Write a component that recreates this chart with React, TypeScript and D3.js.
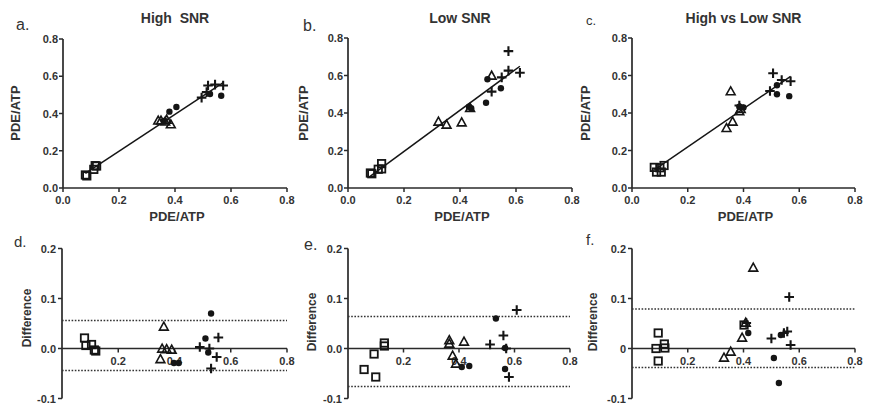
import React from "react";
import * as d3 from "d3";

type Pt = [number, number];

// ---------- Panel a: High SNR ----------
const aSquares: Pt[] = [[0.08, 0.07], [0.085, 0.065], [0.11, 0.1], [0.115, 0.12], [0.12, 0.118]];
const aTriangles: Pt[] = [[0.34, 0.36], [0.35, 0.36], [0.365, 0.355], [0.385, 0.34], [0.37, 0.365]];
const aCircles: Pt[] = [[0.36, 0.36], [0.38, 0.41], [0.405, 0.435], [0.525, 0.505], [0.565, 0.495]];
const aPluses: Pt[] = [[0.495, 0.485], [0.513, 0.515], [0.518, 0.55], [0.543, 0.555], [0.572, 0.55]];

// ---------- Panel b: Low SNR ----------
const bSquares: Pt[] = [[0.08, 0.08], [0.085, 0.076], [0.108, 0.1], [0.12, 0.102], [0.12, 0.13]];
const bTriangles: Pt[] = [[0.323, 0.352], [0.352, 0.336], [0.406, 0.348], [0.436, 0.425], [0.513, 0.597]];
const bCircles: Pt[] = [[0.432, 0.434], [0.493, 0.455], [0.498, 0.58], [0.546, 0.532], [0.44, 0.425]];
const bPluses: Pt[] = [[0.513, 0.514], [0.549, 0.59], [0.573, 0.73], [0.573, 0.626], [0.614, 0.615]];

// ---------- Panel c: High vs Low SNR ----------
const cSquares: Pt[] = [[0.08, 0.11], [0.088, 0.085], [0.105, 0.085], [0.115, 0.12], [0.1, 0.108]];
const cTriangles: Pt[] = [[0.354, 0.514], [0.339, 0.318], [0.361, 0.352], [0.385, 0.407], [0.39, 0.42]];
const cCircles: Pt[] = [[0.385, 0.434], [0.4, 0.43], [0.52, 0.5], [0.564, 0.49], [0.52, 0.548]];
const cPluses: Pt[] = [[0.506, 0.612], [0.495, 0.517], [0.537, 0.576], [0.569, 0.569], [0.385, 0.44]];

// ---------- Panel d: High SNR differences ----------
const dSquares: Pt[] = [[0.08, 0.021], [0.085, 0.006], [0.105, 0.008], [0.115, -0.003], [0.12, -0.005]];
const dTriangles: Pt[] = [[0.362, 0.043], [0.356, -0.001], [0.35, -0.022], [0.39, -0.003], [0.372, -0.002]];
const dCircles: Pt[] = [[0.53, 0.07], [0.51, 0.02], [0.52, -0.008], [0.398, -0.029], [0.415, -0.029]];
const dPluses: Pt[] = [[0.49, 0.003], [0.556, 0.022], [0.55, -0.017], [0.53, -0.04], [0.524, 0.0]];
const dLimits = [0.056, -0.044];

// ---------- Panel e: Low SNR differences ----------
const eSquares: Pt[] = [[0.058, -0.042], [0.1, -0.057], [0.094, -0.011], [0.131, 0.011], [0.131, 0.005]];
const eTriangles: Pt[] = [[0.365, 0.016], [0.365, 0.009], [0.377, -0.015], [0.389, -0.031], [0.418, 0.013]];
const eCircles: Pt[] = [[0.41, -0.037], [0.437, -0.035], [0.533, 0.06], [0.566, 0.001], [0.566, -0.041]];
const ePluses: Pt[] = [[0.512, 0.008], [0.56, 0.026], [0.608, 0.077], [0.58, -0.057], [0.57, 0.0]];
const eLimits = [0.064, -0.076];

// ---------- Panel f: High vs Low SNR differences ----------
const fSquares: Pt[] = [[0.094, 0.031], [0.086, 0.0], [0.094, -0.025], [0.116, 0.009], [0.118, 0.001], [0.402, 0.047]];
const fTriangles: Pt[] = [[0.435, 0.161], [0.33, -0.019], [0.354, -0.007], [0.395, 0.021], [0.408, 0.051]];
const fCircles: Pt[] = [[0.417, 0.031], [0.509, -0.019], [0.527, -0.069], [0.534, 0.027]];
const fPluses: Pt[] = [[0.41, 0.051], [0.5, 0.02], [0.545, 0.031], [0.557, 0.034], [0.564, 0.103], [0.569, 0.007]];
const fLimits = [0.079, -0.038];

// ---------- Axes / text ----------
const topTicks = [0, 0.2, 0.4, 0.6, 0.8];
const topTickLabels = ["0.0", "0.2", "0.4", "0.6", "0.8"];
const baXTicks = [0.2, 0.4, 0.6, 0.8];
const baXTickLabels = ["0.2", "0.4", "0.6", "0.8"];
const baYTicks = [-0.1, 0, 0.1, 0.2];
const baYTickLabels = ["-0.1", "0.0", "0.1", "0.2"];
const baYTickLabelsF = ["-0.1", "0", "0.1", "0.2"];
const titles = ["High  SNR", "Low SNR", "High vs Low SNR"];
const letters = ["a.", "b.", "c.", "d.", "e.", "f."];
const axisTitle = "PDE/ATP";
const diffTitle = "Difference";

const FONT = "'Liberation Sans', Arial, Helvetica, sans-serif";
const INK = "#151515";
const TXT = "#333";
const AX = "#2a2a2a";

type Groups = { squares: Pt[]; triangles: Pt[]; circles: Pt[]; pluses: Pt[] };

function Markers({ x, y, g }: { x: d3.ScaleLinear<number, number>; y: d3.ScaleLinear<number, number>; g: Groups }) {
  const tri = "M0,-4.8L4.4,3.1L-4.4,3.1Z";
  return (
    <g>
      {g.circles.map((p, i) => (
        <circle key={"c" + i} cx={x(p[0])} cy={y(p[1])} r={3.2} fill={INK} />
      ))}
      {g.squares.map((p, i) => (
        <rect key={"s" + i} x={x(p[0]) - 3.7} y={y(p[1]) - 3.7} width={7.4} height={7.4} fill="none" stroke={INK} strokeWidth={1.8} />
      ))}
      {g.triangles.map((p, i) => (
        <path key={"t" + i} d={tri} transform={`translate(${x(p[0])},${y(p[1])})`} fill="none" stroke={INK} strokeWidth={1.6} />
      ))}
      {g.pluses.map((p, i) => (
        <path key={"p" + i} d="M-4.8,0H4.8M0,-4.8V4.8" transform={`translate(${x(p[0])},${y(p[1])})`} stroke={INK} strokeWidth={2.1} />
      ))}
    </g>
  );
}

function fit(pts: Pt[]) {
  const mx = d3.mean(pts, (p) => p[0]) as number;
  const my = d3.mean(pts, (p) => p[1]) as number;
  const sxy = d3.sum(pts, (p) => (p[0] - mx) * (p[1] - my));
  const sxx = d3.sum(pts, (p) => (p[0] - mx) * (p[0] - mx));
  const slope = sxy / sxx;
  const b = my - slope * mx;
  const ext = d3.extent(pts, (p) => p[0]) as [number, number];
  return { x0: ext[0], x1: ext[1], y0: b + slope * ext[0], y1: b + slope * ext[1] };
}

type TopCfg = { x0: number; x1: number; yb: number; yt: number; g: Groups; title: string; letter: string; lx: number; ly: number; lsize: number; ylabX: number };

function TopPanel({ c }: { c: TopCfg }) {
  const x = d3.scaleLinear().domain([0, 0.8]).range([c.x0, c.x1]);
  const y = d3.scaleLinear().domain([0, 0.8]).range([c.yb, c.yt]);
  const all = [...c.g.squares, ...c.g.triangles, ...c.g.circles, ...c.g.pluses];
  const f = fit(all);
  const cx = (c.x0 + c.x1) / 2;
  return (
    <g>
      <text x={cx} y={23} textAnchor="middle" fontSize={14} fontWeight="bold" fill={TXT} fontFamily={FONT} style={{ whiteSpace: "pre" }}>{c.title}</text>
      <text x={c.lx} y={c.ly} fontSize={c.lsize} fill={TXT} fontFamily={FONT}>{c.letter}</text>
      <line x1={c.x0} x2={c.x1} y1={c.yb} y2={c.yb} stroke={AX} strokeWidth={1.7} />
      <line x1={c.x0} x2={c.x0} y1={c.yt} y2={c.yb} stroke={AX} strokeWidth={1.7} />
      {topTicks.map((t, i) => (
        <g key={"xt" + i}>
          <line x1={x(t)} x2={x(t)} y1={c.yb} y2={c.yb + 4} stroke={AX} strokeWidth={1.5} />
          <text x={x(t)} y={c.yb + 16} textAnchor="middle" fontSize={11} fontWeight="bold" fill={TXT} fontFamily={FONT}>{topTickLabels[i]}</text>
          <line x1={c.x0 - 4} x2={c.x0} y1={y(t)} y2={y(t)} stroke={AX} strokeWidth={1.5} />
          <text x={c.x0 - 5} y={y(t) + 4} textAnchor="end" fontSize={11} fontWeight="bold" fill={TXT} fontFamily={FONT}>{topTickLabels[i]}</text>
        </g>
      ))}
      <text x={cx + 2} y={221} textAnchor="middle" fontSize={13} fontWeight="bold" fill={TXT} fontFamily={FONT}>{axisTitle}</text>
      <text transform={`translate(${c.ylabX},113) rotate(-90)`} textAnchor="middle" fontSize={13} fontWeight="bold" fill={TXT} fontFamily={FONT}>{axisTitle}</text>
      <line x1={x(f.x0)} x2={x(f.x1)} y1={y(f.y0)} y2={y(f.y1)} stroke={INK} strokeWidth={1.5} />
      <Markers x={x} y={y} g={c.g} />
    </g>
  );
}

type BotCfg = { x0: number; x1: number; g: Groups; letter: string; lx: number; ly: number; lsize: number; ylabX: number; ylabY: number; limits: number[]; yLabels: string[] };

function BotPanel({ c }: { c: BotCfg }) {
  const x = d3.scaleLinear().domain([0, 0.8]).range([c.x0, c.x1]);
  const y = d3.scaleLinear().domain([-0.1, 0.2]).range([398.5, 248.5]);
  return (
    <g>
      <text x={c.lx} y={c.ly} fontSize={c.lsize} fill={TXT} fontFamily={FONT}>{c.letter}</text>
      <line x1={c.x0} x2={c.x0} y1={y(0.2)} y2={y(-0.1)} stroke={AX} strokeWidth={1.7} />
      <line x1={c.x0} x2={c.x1} y1={y(0)} y2={y(0)} stroke={AX} strokeWidth={1.7} />
      {baYTicks.map((t, i) => (
        <g key={"yt" + i}>
          <line x1={c.x0 - 4} x2={c.x0} y1={y(t)} y2={y(t)} stroke={AX} strokeWidth={1.5} />
          <text x={c.x0 - 6} y={y(t) + 4} textAnchor="end" fontSize={11} fontWeight="bold" fill={TXT} fontFamily={FONT}>{c.yLabels[i]}</text>
        </g>
      ))}
      {baXTicks.map((t, i) => (
        <g key={"xt" + i}>
          <line x1={x(t)} x2={x(t)} y1={y(0)} y2={y(0) + 4} stroke={AX} strokeWidth={1.5} />
          <text x={x(t)} y={y(0) + 16} textAnchor="middle" fontSize={11} fontWeight="bold" fill={TXT} fontFamily={FONT}>{baXTickLabels[i]}</text>
        </g>
      ))}
      {c.limits.map((l, i) => (
        <line key={"lim" + i} x1={c.x0} x2={c.x1} y1={y(l)} y2={y(l)} stroke="#333" strokeWidth={1.6} strokeDasharray="1.6,1.6" />
      ))}
      <text transform={`translate(${c.ylabX},${c.ylabY}) rotate(-90)`} textAnchor="middle" fontSize={12} fontWeight="bold" fill={TXT} fontFamily={FONT}>{diffTitle}</text>
      <Markers x={x} y={y} g={c.g} />
    </g>
  );
}

export default function App() {
  const tops: TopCfg[] = [
    { x0: 63, x1: 287, yb: 188, yt: 39, g: { squares: aSquares, triangles: aTriangles, circles: aCircles, pluses: aPluses }, title: titles[0], letter: letters[0], lx: 16, ly: 30, lsize: 16, ylabX: 20 },
    { x0: 348, x1: 572, yb: 188, yt: 38, g: { squares: bSquares, triangles: bTriangles, circles: bCircles, pluses: bPluses }, title: titles[1], letter: letters[1], lx: 303, ly: 31, lsize: 16, ylabX: 308 },
    { x0: 632, x1: 855, yb: 188, yt: 38, g: { squares: cSquares, triangles: cTriangles, circles: cCircles, pluses: cPluses }, title: titles[2], letter: letters[2], lx: 586, ly: 25, lsize: 13, ylabX: 590 },
  ];
  const bots: BotCfg[] = [
    { x0: 62, x1: 287, g: { squares: dSquares, triangles: dTriangles, circles: dCircles, pluses: dPluses }, letter: letters[3], lx: 14, ly: 247, lsize: 15, ylabX: 31, ylabY: 318, limits: dLimits, yLabels: baYTickLabels },
    { x0: 348, x1: 570, g: { squares: eSquares, triangles: eTriangles, circles: eCircles, pluses: ePluses }, letter: letters[4], lx: 304, ly: 250, lsize: 16, ylabX: 316, ylabY: 322, limits: eLimits, yLabels: baYTickLabels },
    { x0: 632, x1: 855, g: { squares: fSquares, triangles: fTriangles, circles: fCircles, pluses: fPluses }, letter: letters[5], lx: 586, ly: 245, lsize: 15, ylabX: 597, ylabY: 322, limits: fLimits, yLabels: baYTickLabelsF },
  ];
  return (
    <svg width={879} height={414} style={{ position: "absolute", left: 0, top: 0, background: "#fff" }}>
      <rect width={879} height={414} fill="#fff" />
      {tops.map((c, i) => (
        <TopPanel key={"t" + i} c={c} />
      ))}
      {bots.map((c, i) => (
        <BotPanel key={"b" + i} c={c} />
      ))}
    </svg>
  );
}
